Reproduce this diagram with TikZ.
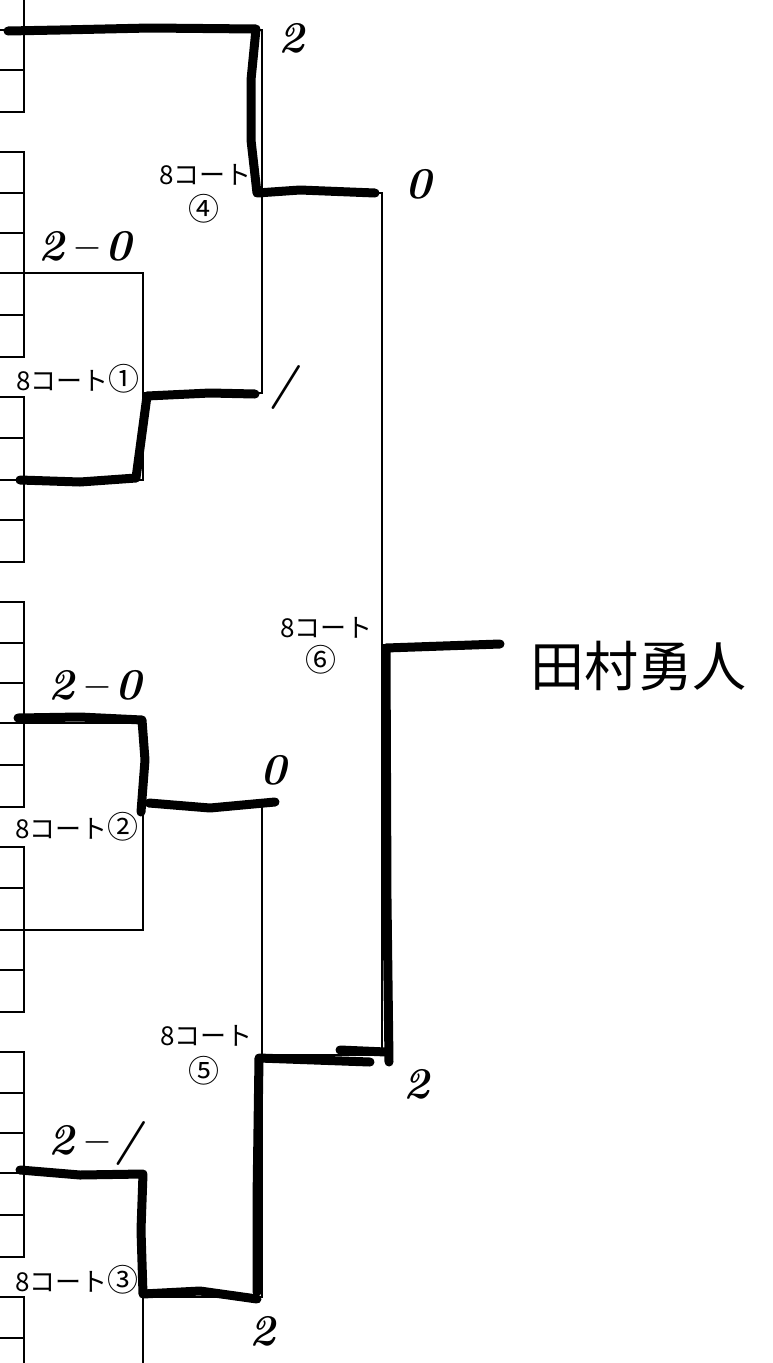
\documentclass[tikz,border=0pt]{standalone}
\usepackage{fontspec}
\newfontfamily\jp{Noto Sans CJK JP}
\newcommand{\circnum}[1]{{\fontsize{31}{31}\selectfont #1}}
\begin{document}
\begin{tikzpicture}[x=1pt,y=-1pt,
  printed/.style={line width=1.8pt,line cap=rect},
  win/.style={line width=9pt,line cap=round,line join=round},
  lbl/.style={font=\jp\fontsize{26}{30}\selectfont,inner sep=0pt},
  hand/.style={font=\fontsize{44}{44}\selectfont\bfseries\itshape,inner sep=0pt},
  winnername/.style={font=\jp\fontsize{54}{54}\selectfont,inner sep=0pt}]
\useasboundingbox (0,0) rectangle (772,1363);
\begin{scope}
\clip (0,0) rectangle (772,1363);
% name boxes at the left edge
\foreach \P in {0,450,900,1350}{
  \draw[printed] (24,\P-53) -- (24,\P+112);
  \foreach \d in {-53,-12,30,70,112}{\draw[printed] (0,\P+\d) -- (24,\P+\d);}
  \draw[printed] (24,\P+152) -- (24,\P+357);
  \foreach \d in {152,193,233,273,315,357}{\draw[printed] (0,\P+\d) -- (24,\P+\d);}
}
% named points of the bracket
\coordinate (p0) at (24,30);
\coordinate (p1) at (24,273);  \coordinate (p2) at (24,480);
\coordinate (p3) at (24,723);  \coordinate (p4) at (24,930);
\coordinate (p5) at (24,1173); \coordinate (p6) at (24,1380);
\coordinate (m1t) at (143,273);  \coordinate (m1b) at (143,480);  \coordinate (m1o) at (143,393);
\coordinate (m2t) at (143,723);  \coordinate (m2b) at (143,930);  \coordinate (m2o) at (143,805);
\coordinate (m3t) at (143,1173); \coordinate (m3b) at (143,1380); \coordinate (m3o) at (143,1297);
\coordinate (m4t) at (262,30);   \coordinate (m4b) at (262,393);  \coordinate (m4o) at (262,193);
\coordinate (m5t) at (262,805);  \coordinate (m5b) at (262,1297); \coordinate (m5o) at (262,1055);
\coordinate (m6t) at (382,193);  \coordinate (m6b) at (382,1055); \coordinate (m6o) at (382,645);
\coordinate (fin) at (500,645);
% printed bracket
\draw[printed] (p0) -- (m4t) -- (m4b) -- (m1o);
\draw[printed] (p1) -- (m1t) -- (m1b) -- (p2);
\draw[printed] (p3) -- (m2t) -- (m2b) -- (p4);
\draw[printed] (p5) -- (m3t) -- (m3b) -- (p6);
\draw[printed] (m2o) -- (m5t) -- (m5b) -- (m3o);
\draw[printed] (m4o) -- (m6t) -- (m6b) -- (m5o);
\draw[printed] (m6o) -- (fin);
\end{scope}
% hand-drawn winner paths
\draw[win] (8,31) -- (60,30) -- (150,28) -- (256,29) -- (251,80) -- (251,140) -- (257,193) -- (300,190) -- (375,193);
\draw[win] (20,480) -- (80,482) -- (136,478) -- (147,396) -- (210,393) -- (255,394);
\draw[win] (18,718) -- (80,717) -- (142,720) -- (145,760) -- (141,812);
\draw[win] (149,803) -- (210,808) -- (275,802);
\draw[win] (20,1170) -- (80,1175) -- (143,1174) -- (141,1230) -- (143,1294) -- (200,1291) -- (257,1299);
\draw[win] (257,1292) -- (257,1200) -- (259,1058) -- (370,1062);
\draw[win] (340,1050) -- (386,1052);
\draw[win] (389,1062) -- (387,900) -- (386,648) -- (500,644);
% printed labels
\node[lbl,anchor=east] (l4a) at (252,175) {8コート};
\node[lbl] (l4b) at (204,209) {\circnum{④}};
\node[lbl,anchor=east] (l1) at (140,379) {8コート\circnum{①}};
\node[lbl,anchor=east] (l2) at (139,827) {8コート\circnum{②}};
\node[lbl,anchor=east] (l3) at (139,1280) {8コート\circnum{③}};
\node[lbl,anchor=east] (l5a) at (253,1036) {8コート};
\node[lbl] (l5b) at (204,1071) {\circnum{⑤}};
\node[lbl,anchor=east] (l6a) at (373,628) {8コート};
\node[lbl] (l6b) at (321,660) {\circnum{⑥}};
% handwritten scores and winner
\node[hand] (s4t) at (291,38) {2};
\node[hand] (s4b) at (418,184) {0};
\node[hand] (s1) at (85,246) {2\,–\,0};
\node[hand] (s1b) at (283,387) {/};
\node[hand] (s2) at (95,685) {2\,–\,0};
\node[hand] (s2b) at (273,770) {0};
\node[hand] (s3) at (95,1143) {2\,–\,/};
\node[hand] (s3b) at (262,1331) {2};
\node[hand] (s5) at (416,1084) {2};
\node[winnername,anchor=west] (winner) at (530,666) {田村勇人};
\end{tikzpicture}
\end{document}
